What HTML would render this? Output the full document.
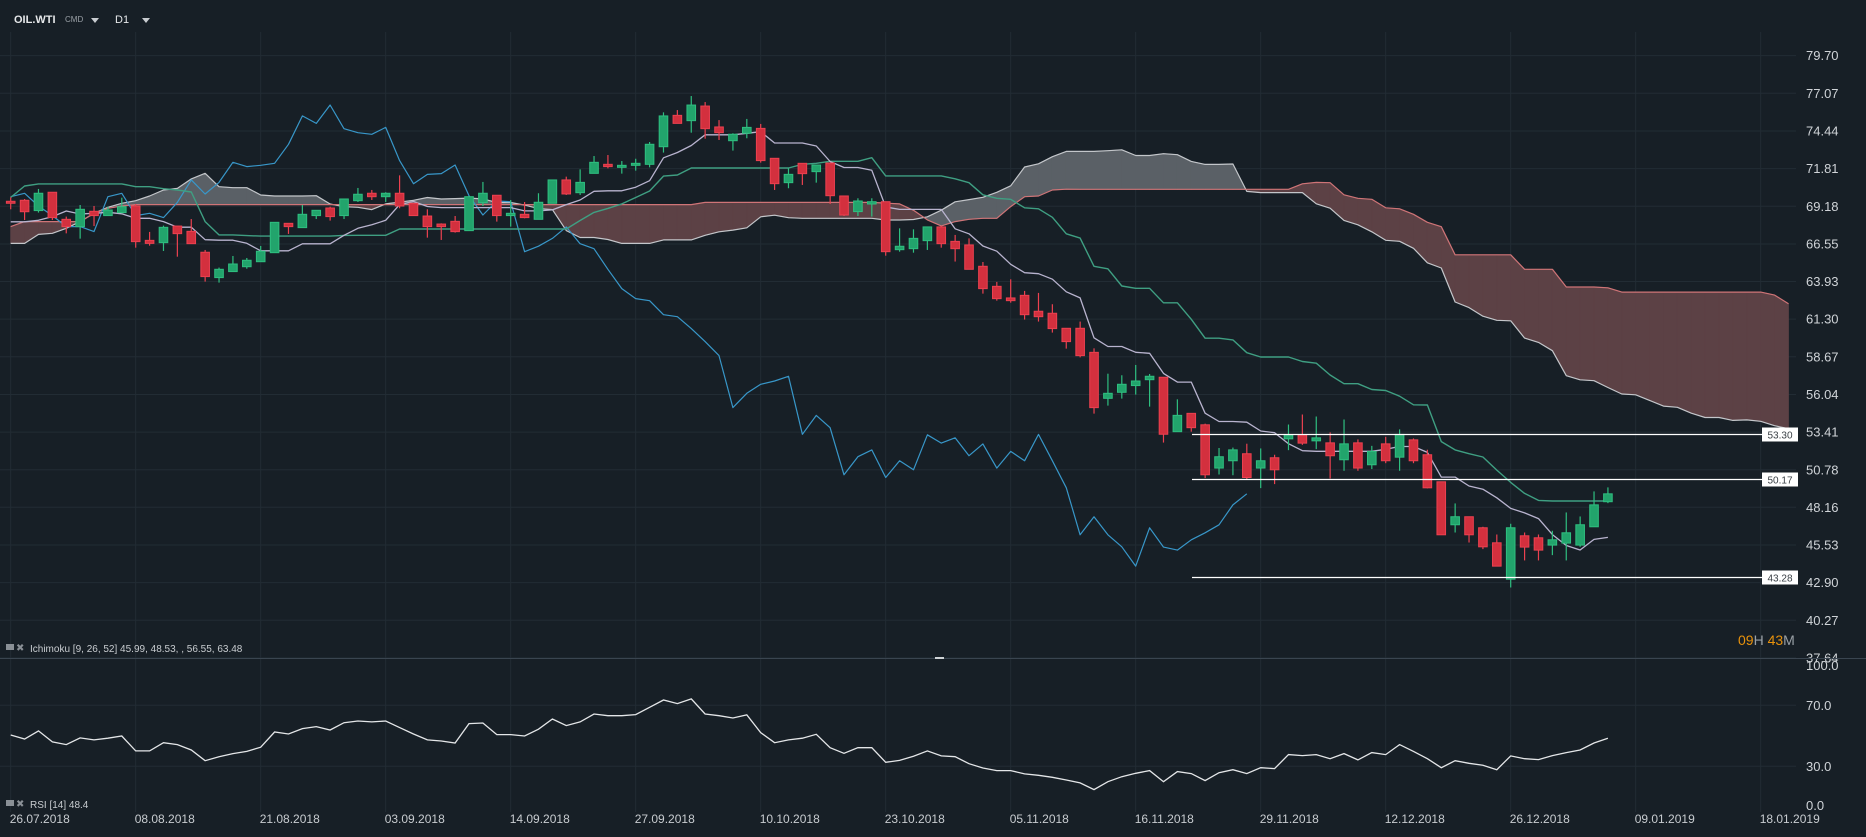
<!DOCTYPE html>
<html><head><meta charset="utf-8"><style>
html,body{margin:0;padding:0;background:#171f26;}
svg{display:block;font-family:"Liberation Sans",sans-serif;}
</style></head><body>
<svg id="chart" width="1866" height="837" viewBox="0 0 1866 837">
<rect x="0" y="0" width="1866" height="837" fill="#171f26"/>
<g id="grid"></g>
<g id="cloud"></g>
<g id="lines"></g>
<g id="candles"></g>
<g id="levels"></g>
<g id="axes"></g>
<g id="rsi"></g>
<g>
  <text x="14" y="23" fill="#e6e8ea" font-size="11" font-weight="bold">OIL.WTI</text>
  <text x="65" y="22" fill="#9aa0a6" font-size="8">CMD</text>
  <path d="M91 18 L99 18 L95 23 Z" fill="#c8ccd0"/>
  <text x="115" y="23" fill="#e6e8ea" font-size="11">D1</text>
  <path d="M142 18 L150 18 L146 23 Z" fill="#c8ccd0"/>
</g>
<line x1="0" y1="658.5" x2="1866" y2="658.5" stroke="#3a4550" stroke-width="1"/>
<rect x="935" y="657" width="9" height="2" fill="#cfd3d6"/>
<g>
  <rect x="6" y="644" width="8" height="6" fill="#8a9096"/>
  <text x="16" y="651" fill="#8a9096" font-size="10">✖</text>
  <text x="30" y="652" fill="#c8ccd0" font-size="10">Ichimoku  [9, 26, 52]  45.99, 48.53, , 56.55, 63.48</text>
</g>
<g>
  <rect x="6" y="800" width="8" height="6" fill="#8a9096"/>
  <text x="16" y="807" fill="#8a9096" font-size="10">✖</text>
  <text x="30" y="808" fill="#c8ccd0" font-size="10">RSI  [14]  48.4</text>
</g>
<g>
  <text x="1738" y="645" font-size="14"><tspan fill="#e8920c">09</tspan><tspan fill="#9aa0a6">H </tspan><tspan fill="#e8920c">43</tspan><tspan fill="#9aa0a6">M</tspan></text>
</g>
</svg>
<script>
const openP=[69.53,69.6,68.88,70.16,68.27,67.76,68.83,68.53,68.74,69.2,66.8,66.64,67.8,67.43,65.97,64.2,64.62,64.96,65.31,65.94,67.99,67.69,68.53,69.06,68.53,69.57,70.09,69.85,70.09,69.39,68.5,67.94,68.13,67.48,69.43,69.95,68.53,68.62,68.27,69.39,71.02,70.13,71.48,72.11,71.9,72.04,72.11,73.34,75.53,75.16,76.18,74.72,73.76,74.28,74.62,72.53,70.83,72.18,71.6,72.2,69.9,68.81,69.34,69.5,66.15,66.22,66.78,67.74,66.73,66.48,64.99,63.59,62.78,62.96,61.85,61.71,60.66,60.66,58.98,55.77,56.19,56.66,57.07,57.24,53.44,54.72,53.92,50.9,51.41,51.9,50.9,51.62,52.94,53.22,52.8,52.66,51.48,52.66,51.13,52.59,51.66,52.87,51.83,49.94,46.94,47.5,46.73,45.68,43.14,46.17,46.03,45.52,45.66,45.52,46.8,48.55];
const highP=[69.81,69.69,70.39,70.16,68.46,69.27,69.2,69.15,69.78,69.34,67.39,67.83,67.8,68.29,66.13,64.9,65.71,65.57,66.41,68.06,67.99,69.27,68.9,69.15,69.69,70.46,70.32,70.16,71.34,69.39,68.97,67.99,68.5,69.9,70.88,69.95,69.62,69.48,70.09,71.02,71.25,71.76,72.69,72.76,72.34,72.5,73.67,75.74,75.9,76.88,76.46,75.2,74.28,75.28,74.93,72.53,71.83,72.18,72.06,72.2,69.9,69.74,69.74,69.5,67.64,67.57,67.74,67.81,67.18,66.94,65.29,63.9,64.08,63.27,63.13,62.34,60.66,61.13,59.26,57.49,57.38,58.1,57.47,57.24,55.7,54.72,54.0,52.3,52.33,52.6,52.27,51.83,53.94,54.64,54.5,53.39,54.29,52.9,52.45,53.08,53.6,52.97,52.18,49.94,48.43,47.5,46.8,46.26,47.01,46.4,46.26,46.52,47.8,47.52,49.27,49.55];
const lowP=[68.97,68.22,68.74,68.22,67.29,66.92,67.8,68.53,68.69,66.29,66.43,66.06,65.66,66.57,63.92,63.85,64.62,64.82,65.31,65.94,67.25,67.69,68.29,68.18,68.29,69.48,69.62,69.48,69.04,68.53,66.99,66.83,67.34,67.48,69.2,68.11,67.76,68.34,68.27,69.39,69.97,69.97,71.48,71.83,71.46,71.67,71.9,72.93,74.97,74.32,73.9,73.81,73.07,73.93,72.23,70.32,70.44,70.67,70.83,69.34,68.5,68.5,68.46,65.73,66.01,65.94,66.13,66.29,65.32,64.78,63.08,62.59,62.45,61.27,61.13,60.36,59.24,58.63,54.7,55.26,55.75,56.03,55.19,52.68,53.44,53.44,50.2,50.45,50.4,50.1,49.5,49.78,52.15,52.52,52.22,50.17,50.71,50.71,50.83,51.24,50.71,51.24,49.48,46.24,46.4,45.7,45.24,44.05,42.56,44.45,44.45,44.82,44.45,45.4,46.8,48.45];
const closeP=[69.39,68.8,70.09,68.39,67.76,68.97,68.53,68.92,69.15,66.71,66.59,67.71,67.27,66.57,64.27,64.78,65.15,65.41,66.04,68.06,67.76,68.62,68.9,68.46,69.69,70.02,69.85,70.09,69.2,68.53,67.76,67.76,67.41,69.85,70.09,68.53,68.69,68.39,69.46,71.02,70.04,70.85,72.25,71.95,72.04,72.18,73.51,75.49,74.97,76.25,74.6,74.32,74.21,74.69,72.37,70.76,71.41,71.46,72.06,69.92,68.57,69.55,69.5,66.01,66.39,66.94,67.74,66.57,66.22,64.78,63.43,62.73,62.59,61.61,61.47,60.64,59.73,58.75,55.12,56.12,56.75,56.98,57.31,53.26,54.58,53.72,50.43,51.69,52.17,50.24,51.41,50.78,53.22,52.64,53.01,51.76,52.59,50.9,52.06,51.41,53.25,51.41,49.52,46.24,47.5,46.24,45.4,44.05,46.73,45.38,45.17,45.89,46.38,46.94,48.33,49.1];
const tenkanSeed=[68.1,68.1,68.2,68.46,68.85,68.64,68.69,68.76];
const kijunSeed=[69.8,70.6,70.74,70.74,70.74,70.74,70.74,70.74,70.74,70.55,70.55,70.41,70.32,70.18,68.11,67.18,67.18,67.13,67.1,67.1,67.1,67.1,67.1,67.1,67.15];
const spanASeed=[66.59,66.59,67.22,67.29,67.64,68.11,68.69,69.11,69.39,69.57,69.9,70.32,70.43,71.09,71.48,70.55,70.48,70.48,69.97,69.9,69.9,69.9,69.92,69.34,69.15,69.11];
const spanBSeed=[67.76,68.11,68.11,68.11,68.11,68.11,68.69,69.04,69.2,69.3,69.3,69.3,69.3,69.3,69.3,69.3,69.3,69.3,69.3,69.3,69.3,69.3,69.3,69.3,69.3,69.3,69.3,69.3,69.3,69.3,69.3,69.3,69.3,69.3,69.3,69.3,69.3,69.3,69.3,69.3,69.3,69.3,69.3,69.3,69.3,69.3,69.3,69.3,69.3,69.3,69.45,69.45,69.45,69.45,69.45,69.45,69.45,69.45,69.45,69.45,69.45,69.45,69.45,69.4,69.35,68.9,68.23,67.81,68.11,68.27,68.34,68.34,69.16,69.85,69.9,70.32,70.37];
const rsiValues=[50.5,47.9,53.2,46.0,44.2,48.6,47.3,48.4,49.9,40.1,40.1,45.5,44.2,40.7,33.7,36.3,38.3,39.8,42.5,52.5,51.2,54.7,56.0,53.8,58.6,59.7,59.1,59.7,55.4,51.2,47.3,46.6,45.3,58.0,58.4,50.8,50.8,49.9,54.3,61.0,56.7,59.1,64.3,63.2,63.2,63.9,68.7,73.5,71.1,74.2,64.3,63.2,61.7,63.7,52.1,45.5,47.3,48.4,51.0,42.2,38.5,42.2,42.2,32.6,33.9,36.6,40.1,36.8,36.3,31.7,28.9,27.2,27.2,25.0,24.1,22.8,21.0,19.1,14.7,19.9,23.2,25.4,27.2,19.9,26.5,25.2,20.6,25.8,27.8,25.2,29.1,28.5,37.7,37.0,37.7,35.0,38.3,34.2,39.0,37.7,44.2,39.8,35.0,29.1,33.7,32.0,30.7,27.8,36.8,35.0,34.4,37.0,39.0,40.7,45.3,48.4];
const priceTicks=["79.70","77.07","74.44","71.81","69.18","66.55","63.93","61.30","58.67","56.04","53.41","50.78","48.16","45.53","42.90","40.27","37.64"];
const dateTicks=["26.07.2018","08.08.2018","21.08.2018","03.09.2018","14.09.2018","27.09.2018","10.10.2018","23.10.2018","05.11.2018","16.11.2018","29.11.2018","12.12.2018","26.12.2018","09.01.2019","18.01.2019"];
const levelValues=[53.30,50.17,43.28];
const rsiTicks=["100.0","70.0","30.0","0.0"];
const rsiTickValues=[100,70,30,0];

const NS="http://www.w3.org/2000/svg";
const X0=10.7, DX=125/9;
function xOf(i){return X0+DX*i;}
function yOf(p){return 93.3+(77.07-p)*14.32;}
function yRsi(v){return 705.3+(70-v)*1.525;}
function mk(tag,attrs,parent){const e=document.createElementNS(NS,tag);for(const k in attrs)e.setAttribute(k,attrs[k]);parent.appendChild(e);return e;}
const gGrid=document.getElementById('grid'),gCloud=document.getElementById('cloud'),gLines=document.getElementById('lines'),gC=document.getElementById('candles'),gLev=document.getElementById('levels'),gAx=document.getElementById('axes'),gRsi=document.getElementById('rsi');

priceTicks.forEach(t=>{const y=yOf(parseFloat(t));
  const l=mk('line',{x1:0,x2:1796,y1:y,y2:y,stroke:'#222c34','stroke-width':1},gGrid);
  
  
  const tx=mk('text',{x:1806,y:y+4.5,fill:'#d0d4d8','font-size':13},gAx);tx.textContent=t;
  
  
});
dateTicks.forEach((t,k)=>{const x=xOf(9*k);
  const l=mk('line',{x1:x,x2:x,y1:32,y2:812,stroke:'#222c34','stroke-width':1},gGrid);
  
  
  const tx=mk('text',{x:x-1,y:823,fill:'#c8ccd0','font-size':12},gAx);tx.textContent=t;
  
  
});
rsiTickValues.forEach((v,k)=>{const y=yRsi(v);
  if(v===70||v===30){const l=mk('line',{x1:0,x2:1796,y1:y,y2:y,stroke:'#222c34','stroke-width':1},gGrid);
    
    }
  let ty=y+4.5; if(v===100) ty=670; if(v===0) ty=810;
  const tx=mk('text',{x:1806,y:ty,fill:'#d0d4d8','font-size':13},gAx);tx.textContent=rsiTicks[k];
  
  
});

const N=closeP.length;
function mid(a,b){let h=-1e9,l=1e9;for(let k=a;k<=b;k++){h=Math.max(h,highP[k]);l=Math.min(l,lowP[k]);}return (h+l)/2;}
const tenkan=[],kijun=[];
for(let i=0;i<N;i++){tenkan.push(i<8?tenkanSeed[i]:mid(i-8,i));kijun.push(i<25?kijunSeed[i]:mid(i-25,i));}
const spanA=[],spanB=[];const JMAX=128;
for(let j=0;j<=JMAX;j++){spanA.push(j<26?spanASeed[j]:(tenkan[j-26]+kijun[j-26])/2);spanB.push(j<77?spanBSeed[j]:mid(j-77,j-26));}
for(let j=0;j<JMAX;j++){
  const a0=spanA[j],a1=spanA[j+1],b0=spanB[j],b1=spanB[j+1];
  const d0=a0-b0,d1=a1-b1;
  const seg=(xa,xb,pa0,pa1,pb0,pb1,up)=>{const c=up?'#5a6066':'#5c4145';
    const p=mk('polygon',{points:`${xa},${yOf(pa0)} ${xb},${yOf(pa1)} ${xb},${yOf(pb1)} ${xa},${yOf(pb0)}`,fill:c,stroke:c,'stroke-width':0.8,'stroke-linejoin':'round'},gCloud);
    
    };
  const x0=xOf(j),x1=xOf(j+1);
  if(d0*d1<0){const t=d0/(d0-d1);const xm=x0+(x1-x0)*t;const am=a0+(a1-a0)*t;
    seg(x0,xm,a0,am,b0,am,d0>0);seg(xm,x1,am,a1,am,b1,d1>0);}
  else seg(x0,x1,a0,a1,b0,b1,(d0+d1)>=0);
}
function poly(vals,start,color,name,w){let pts=[];vals.forEach((v,k)=>pts.push(xOf(start+k).toFixed(1)+','+yOf(v).toFixed(1)));
  const p=mk('polyline',{points:pts.join(' '),fill:'none',stroke:color,'stroke-width':w||1.2,'stroke-linejoin':'round'},gLines);
  
  }
poly(spanA,0,'#c3c6ca','senkou-span-a');
poly(spanB,0,'#cf7477','senkou-span-b');
poly(closeP.slice(26),0,'#3897c9','chikou-span');
poly(kijun,0,'#3f9f82','kijun-sen',1.4);
poly(tenkan,0,'#b9b4cf','tenkan-sen',1.3);

for(let i=0;i<N;i++){
  const up=closeP[i]>=openP[i];const x=xOf(i);
  const stroke=up?'#2fbf80':'#ec4150',fill=up?'#22a46c':'#d3303e';
  const w=mk('line',{x1:x,x2:x,y1:yOf(highP[i]),y2:yOf(lowP[i]),stroke:stroke,'stroke-width':1.2},gC);
  
  
  const top=yOf(Math.max(openP[i],closeP[i])),bot=yOf(Math.min(openP[i],closeP[i]));
  const b=mk('rect',{x:x-4.3,y:top,width:8.6,height:Math.max(1.5,bot-top),fill:fill,stroke:stroke,'stroke-width':1},gC);
  
  
}
levelValues.forEach(v=>{const y=Math.round(yOf(v))+0.5;
  const l=mk('line',{x1:1192,x2:1762,y1:y,y2:y,stroke:'#ffffff','stroke-width':1.2},gLev);
  
  
  const r=mk('rect',{x:1762,y:y-7,width:36,height:14,fill:'#ffffff'},gLev);
  
  
  const t=mk('text',{x:1780,y:y+4,fill:'#3a4046','font-size':10,'text-anchor':'middle'},gLev);t.textContent=v.toFixed(2);
  
  
});
{let pts=rsiValues.map((v,i)=>xOf(i).toFixed(1)+','+yRsi(v).toFixed(1));
 const p=mk('polyline',{points:pts.join(' '),fill:'none',stroke:'#e4e6e8','stroke-width':1.3},gRsi);
 
 }
</script>
</body></html>
